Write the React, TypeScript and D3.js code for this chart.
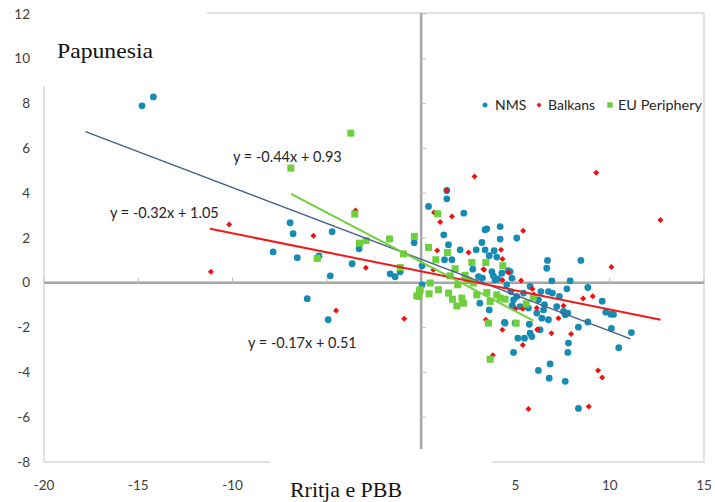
import * as d3 from "d3";

// NMS (blue dots), [growth, unemployment change]
const nmsPoints: [number, number][] = [
  [-14.8, 7.9], [-14.2, 8.3],
  [-7.85, 1.38], [-6.95, 2.68], [-6.79, 2.19], [-6.57, 1.12], [-6.04, -0.71], [-5.42, 1.2],
  [-4.72, 2.28], [-4.82, 0.31], [-4.93, -1.65], [-3.66, 0.85], [-3.29, 1.52], [-1.64, 0.4],
  [-1.38, 0.27], [-1.11, 0.49], [-0.37, 1.79], [0.05, 0.76], [0.05, -0.09],
  [1.36, 4.12], [1.36, 3.75], [0.39, 3.41], [2.26, 3.11], [1.2, 2.14], [1.45, 1.7], [2.07, 1.47],
  [1.63, 1.03], [1.24, 1.03], [3.39, 2.37], [3.48, 2.41], [3.22, 1.8], [4.19, 2.51], [4.19, 1.95],
  [2.92, 1.47], [3.39, 1.47], [3.87, 1.43], [3.61, 1.21], [4.01, 1.15], [2.74, 0.61], [3.04, 0.28],
  [3.25, 0.21], [3.75, 0.5], [3.83, 0.31], [4.07, 0.17], [3.11, -0.91], [3.61, -1.21], [2.51, 0.13],
  [5.07, 2.0], [6.7, 1.0], [6.66, 0.65], [6.93, 0.09], [7.9, 0.09], [7.73, -0.27], [4.72, 0.5],
  [4.28, 0.43], [4.81, 0.21], [3.92, 0.13], [6.35, -0.39], [6.75, -0.39], [6.96, -0.46],
  [7.33, -0.61], [6.22, -0.76], [6.54, -0.98], [6.49, -1.21], [7.19, -1.06], [7.55, -1.28],
  [7.64, -1.43], [4.9, -0.76], [5.25, -1.06], [5.69, -1.13], [6.13, -1.35], [6.4, -1.58],
  [6.75, -1.65], [4.42, -1.77], [4.98, -1.8], [5.74, -1.85], [5.13, -2.47], [5.48, -2.47],
  [5.78, -2.25], [5.87, -2.4], [6.31, -2.1], [4.9, -3.11], [7.81, -2.69], [7.78, -3.11],
  [6.84, -3.62], [6.22, -3.91], [6.79, -4.26], [7.64, -4.4],
  [8.47, 1.0], [8.84, -0.21], [9.6, -0.82], [9.79, -1.31], [10.2, -1.41], [10.05, -1.4],
  [8.84, -1.75], [8.34, -1.98], [10.09, -2.04], [11.15, -2.22], [10.48, -2.9], [7.78, -1.35],
  [8.34, -5.61], [4.45, -1.8], [4.61, 0.54], [4.54, -0.09], [4.76, -0.39], [5.07, -0.61],
  [5.43, -0.46], [5.78, -0.16], [4.83, -1.01],
];

// Balkans (red diamonds)
const balkansPoints: [number, number][] = [
  [-10.18, 2.6], [-11.15, 0.49], [-5.71, 2.1], [-3.48, 3.23], [-2.93, 0.67], [-4.51, -1.24],
  [-0.9, -1.61], [2.83, 4.75], [1.36, 4.12], [1.63, 2.96], [1.01, 2.71], [0.69, 3.14],
  [0.85, 1.44], [2.51, 1.35], [3.3, 0.61], [4.24, 1.47], [4.31, 1.06], [4.31, 0.13],
  [2.45, 0.06], [3.43, -1.65], [4.31, -2.1], [3.8, -3.23], [0.65, 0.58], [5.41, 2.32],
  [3.34, 0.58], [5.3, 0.1], [5.9, -0.28], [4.63, 0.46], [5.0, -1.16], [5.39, -1.16],
  [6.15, -2.1], [6.91, -2.25], [5.98, -0.52], [6.13, -1.13], [7.28, -1.58], [7.55, -1.03],
  [6.19, -2.07], [7.95, -2.29], [5.39, -2.78], [5.69, -5.63], [9.28, 4.91], [12.69, 2.8],
  [10.09, 0.7], [9.1, -0.6], [8.59, -0.7], [9.38, -3.91], [9.6, -4.23], [8.89, -5.52],
];

// EU Periphery (green squares)
const euPoints: [number, number][] = [
  [-3.73, 6.68], [-6.91, 5.12], [-3.52, 3.07], [-3.27, 1.77], [-2.92, 1.89], [-1.68, 1.96],
  [-0.94, 1.29], [-0.36, 2.07], [-1.11, 0.68], [-5.51, 1.09], [-0.09, -0.36], [-0.12, -0.61],
  [0.88, 3.08], [0.39, 1.58], [1.4, 1.35], [0.78, 1.03], [1.8, 0.63], [1.54, 0.31], [2.33, 0.33],
  [2.69, 0.91], [3.43, 0.91], [4.33, 0.76], [0.48, -0.01], [-0.05, -0.31], [-0.23, -0.58],
  [0.42, -0.49], [0.92, -0.31], [1.45, -0.46], [1.94, -0.09], [1.66, -0.73], [1.89, -1.03],
  [2.24, -0.91], [2.16, -0.68], [2.95, -0.54], [3.48, -0.43], [3.66, -0.83], [4.01, -0.54],
  [4.19, -0.68], [3.57, -1.8], [3.66, -3.41], [2.77, -0.01], [2.45, 0.1], [4.45, -0.73],
  [5.57, -0.94], [5.95, -0.64], [5.04, -1.8],
];

// linear trendlines: slope, intercept, x from, x to
const trendSlopes = [-0.32, -0.17, -0.44];
const trendIntercepts = [1.05, 0.51, 0.93];
const trendFrom = [-17.8, -11.2, -6.9];
const trendTo = [11.1, 12.7, 5.95];
const trendColors = ["#46608e", "#f01a1a", "#70d040"];
const trendWidths = [1.4, 2, 2];

const xTicks = [-20, -15, -10, -5, 0, 5, 10, 15];
// -5 and 0 labels sit under the axis-title box in the original
const xTickLabels = [-20, -15, -10, 5, 10, 15];
const yTicks = [-8, -6, -4, -2, 0, 2, 4, 6, 8, 10, 12];

const BLUE = "#178cb3";
const RED = "#ee1111";
const GREEN = "#6dd03c";
const labelFont = "Lato, 'Open Sans', sans-serif";

export default function App() {
  const x = d3.scaleLinear().domain([-20, 15]).range([44, 704]);
  const y = d3.scaleLinear().domain([-8, 12]).range([462, 14]);
  const x0 = x(0);
  const y0 = y(0);
  const diamond = d3.symbol(d3.symbolSquare, 18)()!;
  const square = d3.symbol(d3.symbolSquare, 49)()!;
  const line = d3.line<[number, number]>().x((d) => x(d[0])).y((d) => y(d[1]));

  return (
    <svg width={715} height={502} style={{ position: "absolute", left: 0, top: 0, background: "#fff" }}>
      {/* plot frame */}
      <rect x={x(-20)} y={13} width={x(15) - x(-20)} height={y(-8) - 13} fill="none" stroke="#d9d9d9" strokeWidth={1.5} />
      {/* axes through origin */}
      <line x1={x(-20)} x2={x(15)} y1={y0} y2={y0} stroke="#a6a6a6" strokeWidth={2.5} />
      <line x1={x0} x2={x0} y1={13} y2={y(-8)} stroke="#a6a6a6" strokeWidth={2.5} />
      {xTicks.filter((t) => t !== 0).map((t) => (
        <line key={"xt" + t} x1={x(t)} x2={x(t)} y1={y0 - 5} y2={y0} stroke="#bfbfbf" strokeWidth={1} />
      ))}
      {yTicks.filter((t) => t !== 0).map((t) => (
        <line key={"yt" + t} x1={x0} x2={x0 + 5} y1={y(t)} y2={y(t)} stroke="#bfbfbf" strokeWidth={1} />
      ))}
      {yTicks.map((t) => (
        <text key={"yl" + t} x={30} y={y(t) + 4.5} textAnchor="end" fontFamily={labelFont} fontSize={13.5} fill="#404040">
          {t}
        </text>
      ))}
      {xTickLabels.map((t) => (
        <text key={"xl" + t} x={x(t)} y={490} textAnchor="middle" fontFamily={labelFont} fontSize={13.5} fill="#404040">
          {t}
        </text>
      ))}

      {/* points */}
      {nmsPoints.map((d, i) => (
        <circle key={"n" + i} cx={x(d[0])} cy={y(d[1])} r={3.4} fill={BLUE} />
      ))}
      {balkansPoints.map((d, i) => (
        <path key={"b" + i} d={diamond} transform={`translate(${x(d[0])},${y(d[1])}) rotate(45)`} fill={RED} />
      ))}
      {euPoints.map((d, i) => (
        <path key={"e" + i} d={square} transform={`translate(${x(d[0])},${y(d[1])})`} fill={GREEN} />
      ))}

      {/* trendlines */}
      {trendSlopes.map((m, i) => (
        <path
          key={"tl" + i}
          d={line([
            [trendFrom[i], m * trendFrom[i] + trendIntercepts[i]],
            [trendTo[i], m * trendTo[i] + trendIntercepts[i]],
          ])!}
          fill="none"
          stroke={trendColors[i]}
          strokeWidth={trendWidths[i]}
        />
      ))}

      {/* trendline equations */}
      <text x={233} y={162} fontFamily={labelFont} fontSize={14.5} fill="#262626">y = -0.44x + 0.93</text>
      <text x={110} y={218} fontFamily={labelFont} fontSize={14.5} fill="#262626">y = -0.32x + 1.05</text>
      <text x={248} y={348} fontFamily={labelFont} fontSize={14.5} fill="#262626">y = -0.17x + 0.51</text>

      {/* legend */}
      <circle cx={485} cy={105} r={2.5} fill={BLUE} />
      <text x={495} y={110} fontFamily={labelFont} fontSize={14} fill="#262626">NMS</text>
      <path d={d3.symbol(d3.symbolSquare, 12)()!} transform="translate(539,105) rotate(45)" fill={RED} />
      <text x={548} y={110} fontFamily={labelFont} fontSize={14} fill="#262626">Balkans</text>
      <path d={d3.symbol(d3.symbolSquare, 30)()!} transform="translate(610,105)" fill={GREEN} />
      <text x={618} y={110} fontFamily={labelFont} fontSize={14} textLength={84} lengthAdjust="spacingAndGlyphs" fill="#262626">EU Periphery</text>

      {/* title boxes covering the frame */}
      <rect x={36} y={0} width={171} height={86} fill="#fff" />
      <text x={57} y={58} fontFamily="'Liberation Serif', serif" fontSize={22} textLength={96} lengthAdjust="spacingAndGlyphs" fill="#111">
        Papunesia
      </text>
      <rect x={270} y={449} width={222} height={53} fill="#fff" />
      <text x={290} y={497} fontFamily="'Liberation Serif', serif" fontSize={22} textLength={112} lengthAdjust="spacingAndGlyphs" fill="#111">
        Rritja e PBB
      </text>
    </svg>
  );
}
